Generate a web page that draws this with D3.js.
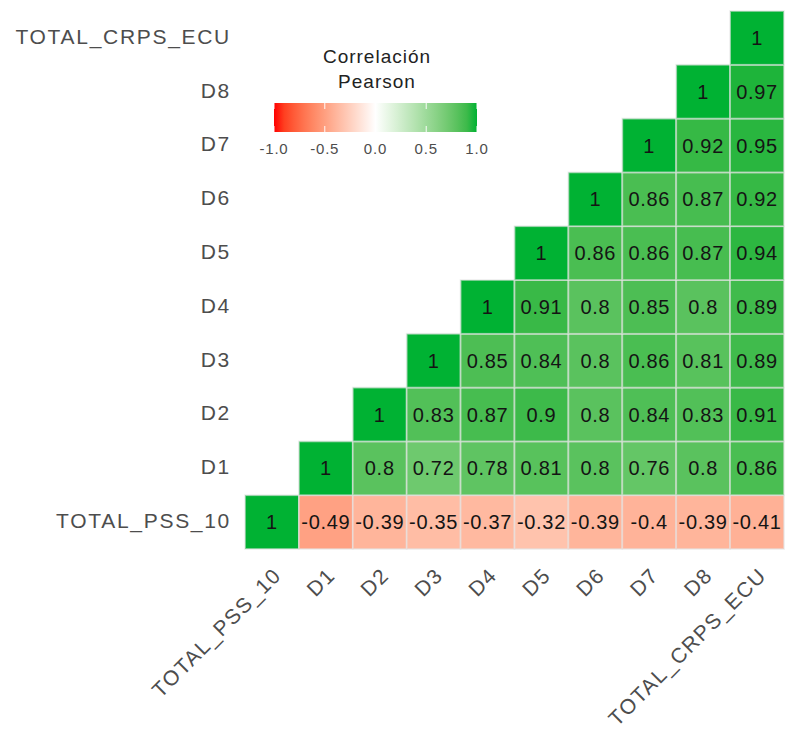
<!DOCTYPE html>
<html>
<head>
<meta charset="utf-8">
<script src="https://cdn.jsdelivr.net/npm/d3@7"></script>
<style>
  html, body { margin: 0; padding: 0; background: #ffffff; }
  svg { display: block; font-family: "Liberation Sans", Arial, sans-serif; }
</style>
</head>
<body>
<svg id="chart" width="790" height="742"></svg>
<script>
// Variables in plotting order (bottom-to-top on y, left-to-right on x)
const variables = ["TOTAL_PSS_10", "D1", "D2", "D3", "D4", "D5", "D6", "D7", "D8", "TOTAL_CRPS_ECU"];

// Pearson correlations of each variable with itself and every later variable
const corrPSS = [1, -0.49, -0.39, -0.35, -0.37, -0.32, -0.39, -0.4, -0.39, -0.41];
const corrD1  = [1, 0.8, 0.72, 0.78, 0.81, 0.8, 0.76, 0.8, 0.86];
const corrD2  = [1, 0.83, 0.87, 0.9, 0.8, 0.84, 0.83, 0.91];
const corrD3  = [1, 0.85, 0.84, 0.8, 0.86, 0.81, 0.89];
const corrD4  = [1, 0.91, 0.8, 0.85, 0.8, 0.89];
const corrD5  = [1, 0.86, 0.86, 0.87, 0.94];
const corrD6  = [1, 0.86, 0.87, 0.92];
const corrD7  = [1, 0.92, 0.95];
const corrD8  = [1, 0.97];
const corrECU = [1];

const legendTicks = [-1.0, -0.5, 0.0, 0.5, 1.0];
const legendTitle = ["Correlación", "Pearson"];

const rows = [corrPSS, corrD1, corrD2, corrD3, corrD4, corrD5, corrD6, corrD7, corrD8, corrECU];

// Flatten to cells: row variable r, column variable c (c >= r)
const cells = [];
rows.forEach((vals, r) => {
  vals.forEach((v, k) => {
    cells.push({ row: variables[r], col: variables[r + k], value: v });
  });
});

const svg = d3.select("#chart");

const x = d3.scaleBand().domain(variables).range([245, 784]).padding(0);
const y = d3.scaleBand().domain(variables.slice().reverse()).range([11, 549]).padding(0);

const color = d3.scaleLinear()
  .domain([-1, 0, 1])
  .range(["#ff0000", "#ffffff", "#00b233"])
  .interpolate(d3.interpolateLab);

// Tiles
svg.append("g")
  .selectAll("rect")
  .data(cells)
  .join("rect")
  .attr("x", d => x(d.col))
  .attr("y", d => y(d.row))
  .attr("width", x.bandwidth())
  .attr("height", y.bandwidth())
  .attr("fill", d => color(d.value))
  .attr("stroke", "#e4e4e4")
  .attr("stroke-opacity", 0.6)
  .attr("stroke-width", 1.8);

// Value labels
svg.append("g")
  .selectAll("text")
  .data(cells)
  .join("text")
  .attr("x", d => x(d.col) + x.bandwidth() / 2)
  .attr("y", d => y(d.row) + y.bandwidth() / 2)
  .attr("text-anchor", "middle")
  .attr("dominant-baseline", "central")
  .attr("font-size", 20)
  .attr("letter-spacing", 0.7)
  .attr("fill", "#141414")
  .text(d => String(d.value));

// Y axis
const yAxis = svg.append("g")
  .attr("transform", "translate(231,0)")
  .call(d3.axisLeft(y).tickSize(0).tickPadding(0));
yAxis.select(".domain").remove();
yAxis.selectAll("text")
  .attr("font-size", 21)
  .attr("letter-spacing", 1.7)
  .attr("fill", "#4d4d4d")
  .attr("x", 0)
  .attr("dy", "0.28em")
  .style("font-family", "Liberation Sans, Arial, sans-serif");

// X axis with rotated labels
const xAxis = svg.append("g")
  .attr("transform", "translate(0,566)")
  .call(d3.axisBottom(x).tickSize(0).tickPadding(0));
xAxis.select(".domain").remove();
xAxis.selectAll("text")
  .attr("font-size", 21)
  .attr("letter-spacing", 1.5)
  .attr("fill", "#4d4d4d")
  .attr("text-anchor", "end")
  .attr("y", 0)
  .attr("dy", "0.72em")
  .attr("transform", "rotate(-45)")
  .style("font-family", "Liberation Sans, Arial, sans-serif");

// Legend colour bar
const legX = d3.scaleLinear().domain([-1, 1]).range([274, 477]);
const barTop = 103, barH = 29;

const defs = svg.append("defs");
const grad = defs.append("linearGradient").attr("id", "legendGrad")
  .attr("x1", "0%").attr("x2", "100%").attr("y1", "0%").attr("y2", "0%");
d3.range(0, 1.0001, 0.05).forEach(t => {
  grad.append("stop")
    .attr("offset", (t * 100) + "%")
    .attr("stop-color", color(-1 + 2 * t));
});

svg.append("rect")
  .attr("x", legX(-1))
  .attr("y", barTop)
  .attr("width", legX(1) - legX(-1))
  .attr("height", barH)
  .attr("fill", "url(#legendGrad)");

// White tick marks on the bar
const tickG = svg.append("g");
legendTicks.forEach(t => {
  tickG.append("line")
    .attr("x1", legX(t)).attr("x2", legX(t))
    .attr("y1", barTop).attr("y2", barTop + 6)
    .attr("stroke", "#ffffff").attr("stroke-width", 1.2).attr("stroke-opacity", 0.8);
  tickG.append("line")
    .attr("x1", legX(t)).attr("x2", legX(t))
    .attr("y1", barTop + barH - 6).attr("y2", barTop + barH)
    .attr("stroke", "#ffffff").attr("stroke-width", 1.2).attr("stroke-opacity", 0.8);
});

svg.append("g")
  .selectAll("text")
  .data(legendTicks)
  .join("text")
  .attr("x", d => legX(d))
  .attr("y", 154)
  .attr("text-anchor", "middle")
  .attr("font-size", 15)
  .attr("letter-spacing", 0.8)
  .attr("fill", "#4d4d4d")
  .text(d => d3.format(".1f")(d).replace("−", "-"));

svg.append("g")
  .selectAll("text")
  .data(legendTitle)
  .join("text")
  .attr("x", 377)
  .attr("y", (d, i) => 63 + i * 25)
  .attr("text-anchor", "middle")
  .attr("font-size", 19)
  .attr("letter-spacing", 1)
  .attr("fill", "#222222")
  .text(d => d);
</script>
</body>
</html>
